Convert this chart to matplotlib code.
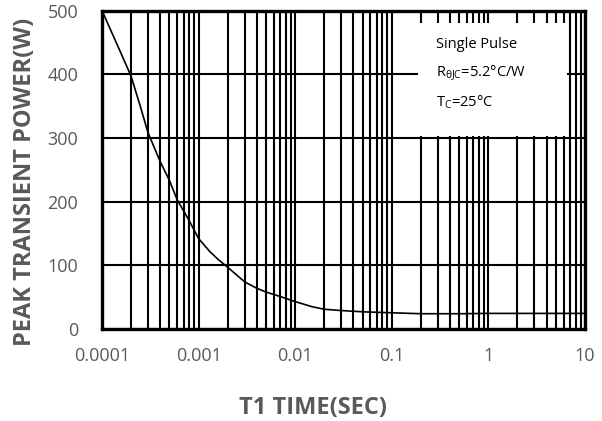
import numpy as np
import matplotlib
matplotlib.use('Agg')
import matplotlib.pyplot as plt
from matplotlib.ticker import LogLocator, FixedLocator, NullFormatter

# pulse width (s) vs peak transient power (W)
t1 = [1e-4, 1.5e-4, 2e-4, 2.5e-4, 3e-4, 4e-4, 5e-4, 6e-4, 8e-4, 1e-3,
      1.3e-3, 1.6e-3, 2e-3, 3e-3, 4e-3, 5e-3, 7e-3, 1e-2, 1.5e-2, 2e-2,
      3e-2, 5e-2, 0.1, 0.2, 0.5, 1, 10]
power = [500, 440, 397, 349, 308, 263, 233, 203, 170, 142,
         122, 109, 97, 74, 64, 58, 51, 43, 35, 31,
         29, 27, 25.5, 24, 24, 24.5, 24.5]

x_ticks = [1e-4, 1e-3, 1e-2, 1e-1, 1, 10]
x_labels = ['0.0001', '0.001', '0.01', '0.1', '1', '10']
y_ticks = [0, 100, 200, 300, 400, 500]

note_lines = ['Single Pulse',
              r'R$_{\mathregular{\theta JC}}$=5.2°C/W',
              r'T$_{\mathregular{C}}$=25°C']

plt.rcParams['font.family'] = ['Open Sans', 'DejaVu Sans']
plt.rcParams['mathtext.fontset'] = 'custom'
plt.rcParams['mathtext.rm'] = 'Open Sans'
gray = '#595959'

fig = plt.figure(figsize=(6.02, 4.21), dpi=100)
ax = fig.add_axes([0.1694, 0.2185, 0.8023, 0.7565])

ax.plot(t1, power, color='black', lw=1.2, zorder=4)

ax.set_xscale('log')
ax.set_xlim(1e-4, 10)
ax.set_ylim(0, 500)
ax.xaxis.set_major_locator(FixedLocator(x_ticks))
ax.set_xticklabels(x_labels)
ax.xaxis.set_minor_locator(LogLocator(base=10, subs=np.arange(2, 10)))
ax.xaxis.set_minor_formatter(NullFormatter())
ax.set_yticks(y_ticks)

ax.grid(True, which='both', axis='x', color='black', lw=1.5, zorder=1)
ax.grid(True, which='major', axis='y', color='black', lw=1.5, zorder=1)
ax.set_axisbelow(True)
ax.tick_params(which='both', length=0, labelsize=13, labelcolor=gray)
ax.tick_params(axis='x', pad=13)
ax.tick_params(axis='y', pad=17)

for s in ax.spines.values():
    s.set_linewidth(2.4)
    s.set_zorder(6)

# white note box covering the grid
ax.fill_between([0.187, 6.5], 303, 480, color='white', lw=0, zorder=3)
for yy, line in zip([0.892, 0.804, 0.713], note_lines):
    ax.text(0.6915, yy, line, transform=ax.transAxes,
            fontsize=10.5, va='center', ha='left', color='black', zorder=5)

ax.set_xlabel('T1 TIME(SEC)', fontsize=17, fontweight='bold', color=gray)
ax.xaxis.set_label_coords(0.437, -0.21)
ax.set_ylabel('PEAK TRANSIENT POWER(W)', fontsize=17, fontweight='bold', color=gray)
ax.yaxis.set_label_coords(-0.135, 0.463)

fig.savefig('out.png', dpi=100)
